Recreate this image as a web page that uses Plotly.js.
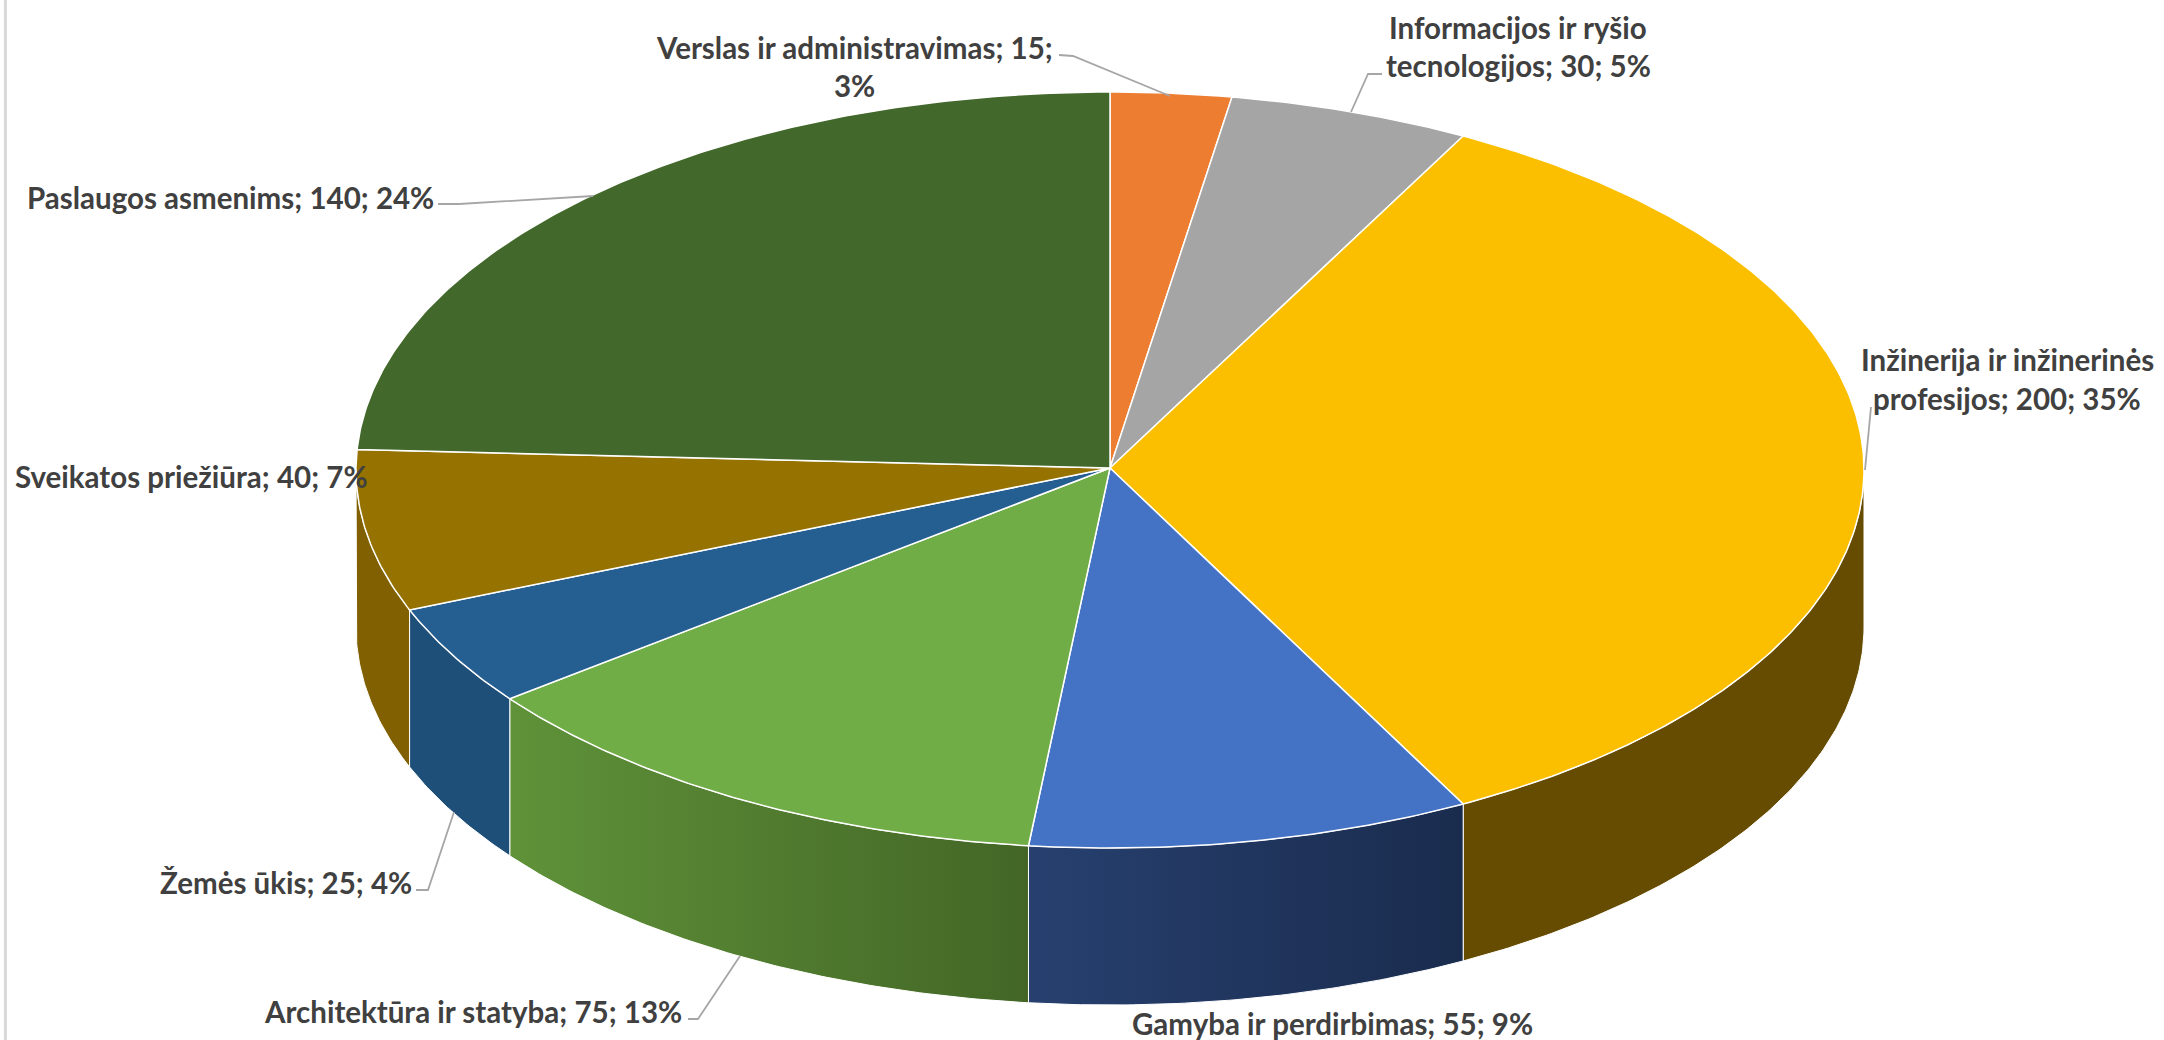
<!DOCTYPE html>
<html><head><meta charset="utf-8">
<script src="https://cdn.plot.ly/plotly-3.0.1.min.js"></script>
<style>html,body{margin:0;padding:0;background:#fff}#c{width:2164px;height:1040px}</style>
</head><body><div id="c"></div>
<script>
const categories=["Verslas ir administravimas","Informacijos ir ryšio technologijos","Inžinerija ir inžinerinės profesijos","Gamyba ir perdirbimas","Architektūra ir statyba","Žemės ūkis","Sveikatos priežiūra","Paslaugos asmenims"];
const values=[15,30,200,55,75,25,40,140];
const percents=[3,5,35,9,13,4,7,24];
const topColors=["#ED7D31","#A5A5A5","#FBBF00","#4472C4","#70AD47","#255E91","#967200","#43682B"];
const sideColors=["#BE6427","#848484","#664C00","#1B2D4F","#5A8A39","#1E4F79","#806000","#36521F"];
const sideGradients={3:["#27406F","#1A2C4E"],4:["#5F9239","#436626"]};
const labelLines=[
 ["Verslas ir administravimas; 15;","3%"],
 ["Informacijos ir ryšio","tecnologijos; 30; 5%"],
 ["Inžinerija ir inžinerinės","profesijos; 200; 35%"],
 ["Gamyba ir perdirbimas; 55; 9%"],
 ["Architektūra ir statyba; 75; 13%"],
 ["Žemės ūkis; 25; 4%"],
 ["Sveikatos priežiūra; 40; 7%"],
 ["Paslaugos asmenims; 140; 24%"]];
const labelPos=[[[854,47],[854,85]],[[1518,27],[1518,65]],[[2007,359],[2007,398]],[[1332,1023]],[[473,1011]],[[286,882]],[[191,476]],[[230,197]]];
const leaders=[
 [[1059,55],[1073,56],[1170,96]],
 [[1382,74],[1368,74],[1351,112]],
 [[1871,407],[1865,470]],
 [[438,204],[459,204],[593,196]],
 [[416,890],[428,890],[454,812]],
 [[688,1019],[698,1019],[740,956]]];
const CX=1110,CY=470,APEX=468,RX=754,RY=378,DEPTH=157;
const total=values.reduce((a,b)=>a+b,0);
const px=t=>CX+RX*Math.sin(t*Math.PI/180), py=t=>CY-RY*Math.cos(t*Math.PI/180);
function arc(a,b){const n=Math.max(2,Math.ceil(Math.abs(b-a)*2));const o=[];for(let i=0;i<=n;i++)o.push(a+(b-a)*i/n);return o;}
const traces=[];
let cum=0;const spans=values.map(v=>{const s=[cum/total*360,(cum+v)/total*360];cum+=v;return s;});
spans.forEach((s,i)=>{
  const a=Math.max(s[0],90),b=Math.min(s[1],270);
  if(b<=a)return;
  const ts=arc(a,b);
  const x=ts.map(px).concat(ts.slice().reverse().map(px));
  const y=ts.map(py).concat(ts.slice().reverse().map(t=>py(t)+DEPTH));
  x.push(x[0]);y.push(y[0]);
  const tr={x,y,mode:'lines',fill:'toself',line:{color:'#FFFFFF',width:1},fillcolor:sideColors[i],hoverinfo:'skip',showlegend:false};
  if(sideGradients[i]){const xs=[px(a),px(b)];tr.fillgradient={type:'horizontal',start:Math.min(...xs),stop:Math.max(...xs),
    colorscale:[[0,sideGradients[i][0]],[1,sideGradients[i][1]]]};delete tr.fillcolor;}
  traces.push(tr);
});
spans.forEach((s,i)=>{
  const ts=arc(s[0],s[1]);
  traces.push({x:[CX].concat(ts.map(px),[CX]),y:[APEX].concat(ts.map(py),[APEX]),mode:'lines',fill:'toself',
   fillcolor:topColors[i],line:{color:'#FFFFFF',width:1.5},name:categories[i],
   text:categories[i]+': '+values[i]+'; '+percents[i]+'%',hoverinfo:'text',showlegend:false});
});
leaders.forEach(l=>traces.push({x:l.map(p=>p[0]),y:l.map(p=>p[1]),mode:'lines',line:{color:'#A6A6A6',width:1.8},hoverinfo:'skip',showlegend:false}));
const annotations=[];
labelLines.forEach((ls,i)=>ls.forEach((t,j)=>annotations.push({x:labelPos[i][j][0],y:labelPos[i][j][1],xref:'x',yref:'y',text:t,showarrow:false,xanchor:'center',yanchor:'middle',
  font:{family:'Lato, Carlito, sans-serif',size:29.5,color:'#404040',weight:700}})));
const layout={width:2164,height:1040,margin:{l:0,r:0,t:0,b:0},paper_bgcolor:'#fff',plot_bgcolor:'#fff',
 xaxis:{range:[0,2164],visible:false,fixedrange:true},yaxis:{range:[1040,0],visible:false,fixedrange:true},
 annotations,showlegend:false,
 shapes:[{type:'line',xref:'paper',yref:'paper',x0:0.0025,x1:0.0025,y0:0,y1:1,line:{color:'#D9D9D9',width:3}}]};
Plotly.newPlot('c',traces,layout,{displayModeBar:false,staticPlot:false});
</script></body></html>
